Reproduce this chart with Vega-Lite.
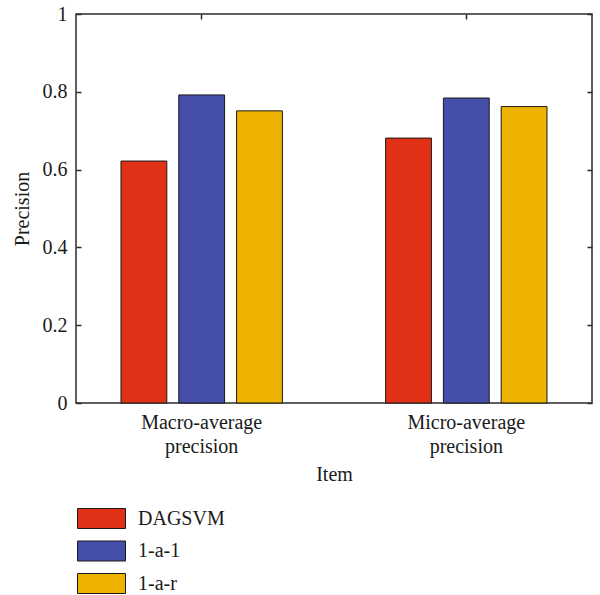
{
  "$schema": "https://vega.github.io/schema/vega-lite/v6.json",
  "width": 516,
  "height": 389,
  "autosize": "none",
  "padding": {"left": 76, "top": 14, "right": 8, "bottom": 192},
  "background": "white",
  "config": {
    "font": "Liberation Serif",
    "view": {"stroke": "#2b2b2b", "strokeWidth": 1.5},
    "axis": {"grid": false, "domain": false, "tickColor": "#2b2b2b", "tickWidth": 1.5, "labelColor": "#1a1a1a", "titleColor": "#1a1a1a", "labelFont": "Liberation Serif", "titleFont": "Liberation Serif", "labelFontSize": 20, "titleFontSize": 20, "titleFontWeight": "normal"}
  },
  "data": {
    "values": [
      {"item": "Macro-average precision", "method": "DAGSVM", "precision": 0.622},
      {"item": "Macro-average precision", "method": "1-a-1", "precision": 0.792},
      {"item": "Macro-average precision", "method": "1-a-r", "precision": 0.751},
      {"item": "Micro-average precision", "method": "DAGSVM", "precision": 0.681},
      {"item": "Micro-average precision", "method": "1-a-1", "precision": 0.784},
      {"item": "Micro-average precision", "method": "1-a-r", "precision": 0.762}
    ]
  },
  "layer": [
    {
      "mark": {"type": "bar", "stroke": "#1a1a1a", "strokeWidth": 1},
      "encoding": {
        "x": {
          "field": "item", "type": "nominal",
          "sort": ["Macro-average precision", "Micro-average precision"],
          "scale": {"paddingInner": 0.39, "paddingOuter": 0.17},
          "axis": {"orient": "bottom", "title": "Item", "labelExpr": "split(datum.label, ' ')", "labelAngle": 0, "tickSize": -5, "labelPadding": 14, "labelLineHeight": 24, "titlePadding": 8}
        },
        "xOffset": {
          "field": "method", "type": "nominal",
          "sort": ["DAGSVM", "1-a-1", "1-a-r"],
          "scale": {"paddingInner": 0.207, "paddingOuter": 0}
        },
        "y": {
          "field": "precision", "type": "quantitative",
          "scale": {"domain": [0, 1], "nice": false},
          "axis": {"orient": "left", "title": "Precision", "values": [0, 0.2, 0.4, 0.6, 0.8, 1], "format": "~g", "tickSize": -5, "labelPadding": 14, "titlePadding": 10}
        },
        "color": {
          "field": "method", "type": "nominal",
          "sort": ["DAGSVM", "1-a-1", "1-a-r"],
          "scale": {"domain": ["DAGSVM", "1-a-1", "1-a-r"], "range": ["#e03116", "#454ea8", "#edb300"]},
          "legend": {
            "orient": "none", "legendX": 15, "legendY": 494, "direction": "vertical", "title": null,
            "symbolType": "M-2.4,-1H2.4V1H-2.4Z", "symbolSize": 400,
            "symbolStrokeColor": "#1a1a1a", "symbolStrokeWidth": 1, "symbolOpacity": 1,
            "labelFont": "Liberation Serif", "labelFontSize": 20, "labelColor": "#1a1a1a", "labelOffset": 26, "rowPadding": 7.5
          }
        }
      }
    },
    {
      "mark": {"type": "tick", "opacity": 0},
      "encoding": {
        "x": {
          "field": "item", "type": "nominal",
          "sort": ["Macro-average precision", "Micro-average precision"],
          "axis": {"orient": "top", "title": null, "labels": false, "tickSize": -5}
        },
        "y": {
          "field": "precision", "type": "quantitative",
          "axis": {"orient": "right", "title": null, "labels": false, "values": [0, 0.2, 0.4, 0.6, 0.8, 1], "tickSize": -5}
        }
      }
    }
  ],
  "resolve": {"axis": {"x": "independent", "y": "independent"}}
}
